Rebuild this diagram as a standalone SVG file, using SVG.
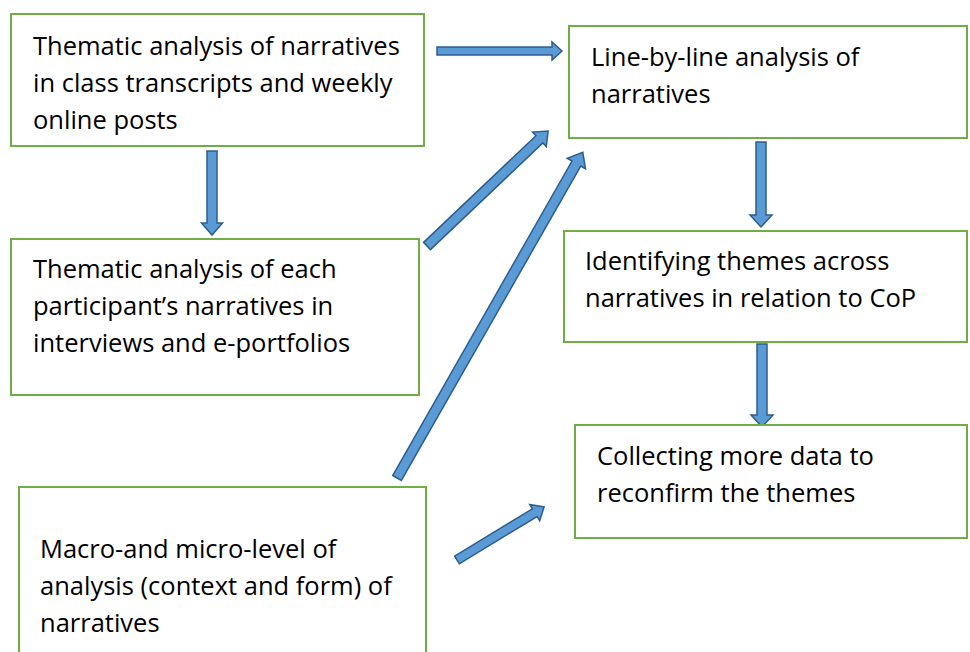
<svg xmlns="http://www.w3.org/2000/svg" width="970" height="652" viewBox="0 0 970 652">
  <style>
    .box { fill: #ffffff; stroke: #70AD47; stroke-width: 2; }
    .txt { font-family: "Open Sans", "Liberation Sans", sans-serif; font-size: 25.5px; fill: #000000; }
    .arr { fill: #5B9BD5; stroke: #2E5D8C; stroke-width: 1.5; stroke-linejoin: miter; }
  </style>
  <rect width="970" height="652" fill="#ffffff"/>

  <g id="connectors">
    <polygon class="arr" transform="translate(437,51) rotate(0)" points="0,-4 115,-4 115,-9 125,0 115,9 115,4 0,4"/>
    <polygon class="arr" transform="translate(212,151) rotate(90)" points="0,-5 72,-5 72,-10.5 84,0 72,10.5 72,5 0,5"/>
    <polygon class="arr" transform="translate(427,246) rotate(-43.5)" points="0,-5 155,-5 155,-10 167,0 155,10 155,5 0,5"/>
    <polygon class="arr" transform="translate(397,478) rotate(-60.3)" points="0,-5 362,-5 362,-10.5 375,0 362,10.5 362,5 0,5"/>
    <polygon class="arr" transform="translate(457,560) rotate(-31.35)" points="0,-4.5 91,-4.5 91,-9.5 102,0 91,9.5 91,4.5 0,4.5"/>
    <polygon class="arr" transform="translate(761,142) rotate(90)" points="0,-5 73,-5 73,-11 85,0 73,11 73,5 0,5"/>
    <polygon class="arr" transform="translate(762,344) rotate(90)" points="0,-5 71,-5 71,-11 83,0 71,11 71,5 0,5"/>
  </g>

  <g id="node1">
    <rect class="box" x="11" y="14" width="413" height="132"/>
    <text class="txt" x="33" y="55">Thematic analysis of narratives</text>
    <text class="txt" x="33" y="92">in class transcripts and weekly</text>
    <text class="txt" x="33" y="129">online posts</text>
  </g>

  <g id="node2">
    <rect class="box" x="11" y="239" width="408" height="156"/>
    <text class="txt" x="33" y="278">Thematic analysis of each</text>
    <text class="txt" x="33" y="315">participant’s narratives in</text>
    <text class="txt" x="33" y="352">interviews and e-portfolios</text>
  </g>

  <g id="node3">
    <rect class="box" x="19" y="487" width="407" height="175"/>
    <text class="txt" x="40" y="558">Macro-and micro-level of</text>
    <text class="txt" x="40" y="595">analysis (context and form) of</text>
    <text class="txt" x="40" y="632">narratives</text>
  </g>

  <g id="node4">
    <rect class="box" x="569" y="26" width="398" height="112"/>
    <text class="txt" x="591" y="66">Line-by-line analysis of</text>
    <text class="txt" x="591" y="103">narratives</text>
  </g>

  <g id="node5">
    <rect class="box" x="564" y="231" width="403" height="111"/>
    <text class="txt" x="585" y="270">Identifying themes across</text>
    <text class="txt" x="585" y="307">narratives in relation to CoP</text>
  </g>

  <g id="node6">
    <rect class="box" x="575" y="425" width="392" height="113"/>
    <text class="txt" x="597" y="465">Collecting more data to</text>
    <text class="txt" x="597" y="502">reconfirm the themes</text>
  </g>
</svg>
